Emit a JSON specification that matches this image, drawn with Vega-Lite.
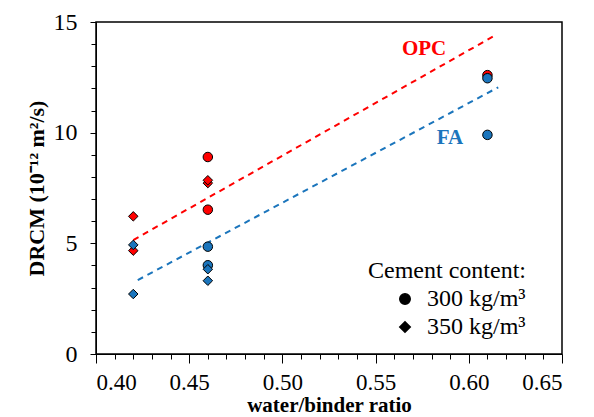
{
  "$schema": "https://vega.github.io/schema/vega-lite/v6.json",
  "width": 466,
  "height": 332,
  "autosize": {"type": "none"},
  "padding": {"left": 96, "top": 22, "right": 32, "bottom": 63},
  "background": "white",
  "config": {
    "view": {"stroke": "black", "strokeWidth": 1.5},
    "font": "Liberation Serif",
    "axis": {
      "labelFont": "Liberation Serif",
      "labelFontSize": 24,
      "labelColor": "black",
      "titleFont": "Liberation Serif",
      "titleColor": "black",
      "titleFontWeight": "bold",
      "domainColor": "black",
      "tickColor": "black",
      "grid": false
    }
  },
  "layer": [
    {
      "data": {"values": [
        {"group": "OPC", "wb": 0.42, "d": 5.15},
        {"group": "OPC", "wb": 0.6144, "d": 14.41},
        {"group": "FA", "wb": 0.4224, "d": 3.34},
        {"group": "FA", "wb": 0.6158, "d": 12.05}
      ]},
      "mark": {"type": "line", "strokeDash": [6, 5], "strokeWidth": 2},
      "encoding": {
        "x": {"field": "wb", "type": "quantitative",
          "scale": {"domain": [0.4, 0.65], "nice": false, "zero": false},
          "axis": {
            "values": [0.40,0.41,0.42,0.43,0.44,0.45,0.46,0.47,0.48,0.49,0.50,0.51,0.52,0.53,0.54,0.55,0.56,0.57,0.58,0.59,0.60,0.61,0.62,0.63,0.64,0.65],
            "tickCount": 100,
            "format": ".2f",
            "labelExpr": "round(datum.value*100) % 5 === 0 ? datum.label : ''",
            "tickSize": {"condition": {"test": "round(datum.value*100) % 5 === 0", "value": 9}, "value": 5},
            "labelPadding": 8,
            "labelFontSize": 23,
            "labelOverlap": false,
            "title": "water/binder ratio",
            "titleFontSize": 21,
            "titlePadding": 0
          }},
        "y": {"field": "d", "type": "quantitative",
          "scale": {"domain": [0, 15], "nice": false},
          "axis": {
            "values": [0,0.5,1,1.5,2,2.5,3,3.5,4,4.5,5,5.5,6,6.5,7,7.5,8,8.5,9,9.5,10,10.5,11,11.5,12,12.5,13,13.5,14,14.5,15],
            "tickCount": 100,
            "format": "d",
            "labelExpr": "datum.value % 5 === 0 ? datum.label : ''",
            "tickSize": {"condition": {"test": "datum.value % 5 === 0", "value": 6}, "value": 5},
            "labelPadding": 13,
            "labelOverlap": false,
            "title": "DRCM (10⁻¹² m²/s)",
            "titleFontSize": 22,
            "titlePadding": 5
          }},
        "color": {"field": "group", "type": "nominal",
          "scale": {"domain": ["OPC", "FA"], "range": ["#FF0000", "#1B75BC"]},
          "legend": null},
        "detail": {"field": "group"}
      }
    },
    {
      "data": {"values": [
        {"group": "OPC", "content": "300 kg/m³", "wb": 0.61, "d": 12.6},
        {"group": "OPC", "content": "300 kg/m³", "wb": 0.46, "d": 8.9},
        {"group": "OPC", "content": "350 kg/m³", "wb": 0.46, "d": 7.72},
        {"group": "OPC", "content": "350 kg/m³", "wb": 0.46, "d": 7.85},
        {"group": "OPC", "content": "300 kg/m³", "wb": 0.46, "d": 6.52},
        {"group": "OPC", "content": "350 kg/m³", "wb": 0.42, "d": 6.22},
        {"group": "OPC", "content": "350 kg/m³", "wb": 0.42, "d": 4.67},
        {"group": "FA", "content": "300 kg/m³", "wb": 0.61, "d": 12.46},
        {"group": "FA", "content": "300 kg/m³", "wb": 0.61, "d": 9.9},
        {"group": "FA", "content": "300 kg/m³", "wb": 0.46, "d": 4.85},
        {"group": "FA", "content": "300 kg/m³", "wb": 0.46, "d": 4.01},
        {"group": "FA", "content": "350 kg/m³", "wb": 0.46, "d": 3.83},
        {"group": "FA", "content": "350 kg/m³", "wb": 0.46, "d": 3.31},
        {"group": "FA", "content": "350 kg/m³", "wb": 0.42, "d": 4.93},
        {"group": "FA", "content": "350 kg/m³", "wb": 0.42, "d": 2.71}
      ]},
      "mark": {"type": "point", "filled": true, "stroke": "black", "strokeWidth": 1, "size": 90, "opacity": 1},
      "encoding": {
        "x": {"field": "wb", "type": "quantitative"},
        "y": {"field": "d", "type": "quantitative"},
        "fill": {"field": "group", "type": "nominal",
          "scale": {"domain": ["OPC", "FA"], "range": ["#FF0000", "#1B75BC"]},
          "legend": null},
        "shape": {"field": "content", "type": "nominal",
          "scale": {"domain": ["300 kg/m³", "350 kg/m³"], "range": ["circle", "diamond"]},
          "legend": {
            "orient": "none",
            "legendX": 272,
            "legendY": 237,
            "title": "Cement content:",
            "titleFont": "Liberation Serif",
            "titleFontSize": 24,
            "titleFontWeight": "normal",
            "titleColor": "black",
            "titleAnchor": "end",
            "titlePadding": 4,
            "labelFont": "Liberation Serif",
            "labelFontSize": 24,
            "labelColor": "black",
            "symbolFillColor": "black",
            "symbolStrokeColor": "black",
            "symbolSize": 110,
            "labelOffset": 10,
            "rowPadding": 4
          }}
      }
    },
    {
      "data": {"values": [
        {"label": "OPC", "wb": 0.576, "d": 13.8},
        {"label": "FA", "wb": 0.5899, "d": 9.78}
      ]},
      "mark": {"type": "text", "font": "Liberation Serif", "fontWeight": "bold", "fontSize": 21},
      "encoding": {
        "x": {"field": "wb", "type": "quantitative"},
        "y": {"field": "d", "type": "quantitative"},
        "text": {"field": "label"},
        "color": {"field": "label", "type": "nominal",
          "scale": {"domain": ["OPC", "FA"], "range": ["#FF0000", "#1B75BC"]},
          "legend": null}
      }
    }
  ]
}
